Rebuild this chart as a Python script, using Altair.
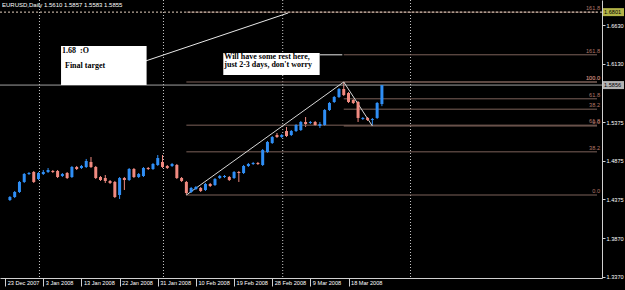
import altair as alt
import pandas as pd

# ---------------- data ----------------
opens = [1.4367, 1.4406, 1.4471, 1.4601, 1.4704, 1.4730, 1.4639, 1.4704, 1.4730, 1.4743,
         1.4743, 1.4678, 1.4717, 1.4665, 1.4795, 1.4782, 1.4795, 1.4860, 1.4795, 1.4665,
         1.4652, 1.4614, 1.4601, 1.4432, 1.4652, 1.4626, 1.4769, 1.4665, 1.4678, 1.4782,
         1.4769, 1.4821, 1.4860, 1.4808, 1.4808, 1.4821, 1.4652, 1.4601, 1.4471, 1.4510,
         1.4523, 1.4497, 1.4575, 1.4562, 1.4652, 1.4665, 1.4665, 1.4652, 1.4730, 1.4717,
         1.4808, 1.4834, 1.4847, 1.4821, 1.4989, 1.5106, 1.5209, 1.5183, 1.5261, 1.5209,
         1.5261, 1.5274, 1.5378, 1.5365, 1.5378, 1.5326, 1.5339, 1.5533, 1.5637, 1.5702,
         1.5805, 1.5753, 1.5663, 1.5637, 1.5417, 1.5430, 1.5404, 1.5430, 1.5610]
highs = [1.4419, 1.4484, 1.4614, 1.4717, 1.4730, 1.4743, 1.4730, 1.4756, 1.4782, 1.4756,
         1.4756, 1.4717, 1.4730, 1.4808, 1.4808, 1.4821, 1.4899, 1.4924, 1.4808, 1.4678,
         1.4691, 1.4626, 1.4614, 1.4665, 1.4665, 1.4782, 1.4782, 1.4717, 1.4795, 1.4795,
         1.4847, 1.4950, 1.4950, 1.4821, 1.4847, 1.4834, 1.4665, 1.4614, 1.4536, 1.4549,
         1.4536, 1.4588, 1.4588, 1.4652, 1.4691, 1.4691, 1.4678, 1.4743, 1.4743, 1.4821,
         1.4847, 1.4860, 1.4860, 1.5028, 1.5132, 1.5196, 1.5235, 1.5222, 1.5313, 1.5274,
         1.5352, 1.5391, 1.5442, 1.5391, 1.5391, 1.5378, 1.5546, 1.5637, 1.5715, 1.5818,
         1.5896, 1.5766, 1.5676, 1.5650, 1.5442, 1.5442, 1.5430, 1.5637, 1.5857]
lows = [1.4354, 1.4393, 1.4458, 1.4588, 1.4691, 1.4588, 1.4626, 1.4691, 1.4717, 1.4717,
        1.4652, 1.4665, 1.4639, 1.4652, 1.4756, 1.4769, 1.4782, 1.4782, 1.4639, 1.4614,
        1.4588, 1.4575, 1.4393, 1.4380, 1.4497, 1.4614, 1.4652, 1.4652, 1.4665, 1.4756,
        1.4756, 1.4808, 1.4782, 1.4769, 1.4795, 1.4639, 1.4601, 1.4432, 1.4458, 1.4497,
        1.4471, 1.4484, 1.4536, 1.4549, 1.4639, 1.4652, 1.4614, 1.4639, 1.4601, 1.4704,
        1.4795, 1.4821, 1.4821, 1.4808, 1.4976, 1.5093, 1.5171, 1.5171, 1.5183, 1.5196,
        1.5248, 1.5261, 1.5313, 1.5352, 1.5326, 1.5300, 1.5326, 1.5520, 1.5624, 1.5689,
        1.5715, 1.5624, 1.5611, 1.5378, 1.5404, 1.5391, 1.5326, 1.5417, 1.5583]
closes = [1.4406, 1.4471, 1.4601, 1.4704, 1.4717, 1.4601, 1.4717, 1.4730, 1.4756, 1.4730,
          1.4665, 1.4704, 1.4652, 1.4795, 1.4769, 1.4808, 1.4873, 1.4795, 1.4652, 1.4626,
          1.4614, 1.4588, 1.4406, 1.4652, 1.4626, 1.4769, 1.4665, 1.4704, 1.4782, 1.4769,
          1.4834, 1.4911, 1.4795, 1.4782, 1.4834, 1.4652, 1.4614, 1.4458, 1.4523, 1.4536,
          1.4484, 1.4575, 1.4549, 1.4639, 1.4678, 1.4678, 1.4626, 1.4730, 1.4717, 1.4808,
          1.4834, 1.4847, 1.4834, 1.5015, 1.5119, 1.5183, 1.5183, 1.5209, 1.5196, 1.5261,
          1.5339, 1.5378, 1.5352, 1.5378, 1.5339, 1.5352, 1.5533, 1.5624, 1.5702, 1.5805,
          1.5727, 1.5637, 1.5624, 1.5430, 1.5430, 1.5404, 1.5417, 1.5624, 1.5855]
bar_index = list(range(len(opens)))

tick_bars = [-1, 7, 15, 23, 31, 39, 47, 55, 63, 71]
tick_dates = ["23 Dec 2007", "3 Jan 2008", "13 Jan 2008", "22 Jan 2008", "31 Jan 2008",
              "10 Feb 2008", "19 Feb 2008", "28 Feb 2008", "9 Mar 2008", "18 Mar 2008"]
price_ticks = [1.6880, 1.6630, 1.6380, 1.6130, 1.5630, 1.5375, 1.5125, 1.4875,
               1.4625, 1.4375, 1.4125, 1.3870, 1.3620, 1.3370]
month_lines = [6.2, 32.2, 57.2, 84.0]

fib_levels = [0.0, 38.2, 61.8, 100.0, 161.8]
fibA_bars = [37, 70]
fibA_prices = [1.4432, 1.5896]
fibB_bars = [70, 76]
fibB_prices = [1.5896, 1.5326]
bid_price = 1.5856
target_price = 1.6801

box_x1 = [10.72, 44.74]
box_x2 = [28.66, 64.95]
box_y1 = [1.5857, 1.5987]
box_y2 = [1.6362, 1.6272]
note_text = ["1.68\u00a0\u00a0:O", "Final target", "Will have some rest here,", "just 2-3 days, don't worry"]
note_x = [10.93, 11.55, 44.95, 44.95]
note_y = [1.6297, 1.6103, 1.6220, 1.6116]
conn_x1 = [28.45, 64.95]
conn_y1 = [1.6168, 1.6248]
conn_x2 = [58.35, 69.7]
conn_y2 = [1.6790, 1.6248]

X_MAX = 123.1
BLUE = "#2f8ef5"
RED = "#f08a80"
FIB = "#7d625a"
FIBTXT = "#b5786a"
FONT = "Liberation Sans"

# ---------------- frames ----------------
df = pd.DataFrame(dict(i=bar_index, o=opens, h=highs, l=lows, c=closes))
df["dir"] = ["up" if c >= o else "down" for o, c in zip(opens, closes)]

fib_rows = []
for name, bars_, prices_ in (("A", fibA_bars, fibA_prices), ("B", fibB_bars, fibB_prices)):
    hi, lo = max(prices_), min(prices_)
    for lv in fib_levels:
        fib_rows.append(dict(fib=name, x1=min(bars_), x2=X_MAX, p=lo + (hi - lo) * lv / 100.0,
                             lab=f"{lv:.1f}"))
fib_df = pd.DataFrame(fib_rows)
diag_df = pd.DataFrame(dict(x1=[fibA_bars[0], fibB_bars[0]], y1=[fibA_prices[0], fibB_prices[0]],
                            x2=[fibA_bars[1], fibB_bars[1]], y2=[fibA_prices[1], fibB_prices[1]]))
box_df = pd.DataFrame(dict(x1=box_x1, x2=box_x2, y1=box_y1, y2=box_y2))
note_df = pd.DataFrame(dict(x=note_x, y=note_y, t=note_text))
conn_df = pd.DataFrame(dict(x1=conn_x1, y1=conn_y1, x2=conn_x2, y2=conn_y2))
bid_df = pd.DataFrame(dict(p=[bid_price], t=[f"{bid_price:.4f}"]))
tgt_df = pd.DataFrame(dict(p=[target_price], t=[f"{target_price:.4f}"]))
grid_df = pd.DataFrame(dict(x=month_lines))
title_df = pd.DataFrame(dict(t=[f"EURUSD,Daily  {opens[-1]:.4f} {highs[-1]:.4f} {lows[-1]:.4f} {closes[-1]:.4f}"]))

xs = alt.Scale(domain=[-1.03, X_MAX], nice=False, zero=False)
ys = alt.Scale(domain=[1.3357, 1.6958], nice=False, zero=False)

label_arr = "[" + ",".join(f"'{d}'" for d in tick_dates) + "]"
xaxis = alt.Axis(values=tick_bars, labelExpr=label_arr + "[round((datum.value + 1) / 8)]",
                 title=None, grid=False, labelAlign="left", labelBaseline="top",
                 labelColor="white", labelFont=FONT, labelFontSize=5.6, labelOffset=2,
                 labelPadding=-6, tickSize=8, tickColor="#d0d0d0", domainColor="#d0d0d0",
                 labelOverlap=False, labelFlush=False)
yaxis = alt.Axis(values=price_ticks, format=".4f", orient="right", title=None, grid=False,
                 labelColor="white", labelFont=FONT, labelFontSize=5.6, labelPadding=1,
                 tickSize=3, tickColor="#d0d0d0", domainColor="#d0d0d0", labelOverlap=False,
                 labelFlush=False)

BLUE_RED = alt.Scale(domain=["up", "down"], range=[BLUE, RED])

wick = alt.Chart(df).mark_rule(strokeWidth=1).encode(
    x=alt.X("i:Q", scale=xs, axis=xaxis),
    y=alt.Y("l:Q", scale=ys, axis=yaxis),
    y2="h:Q",
    color=alt.Color("dir:N", scale=BLUE_RED, legend=None))
body = alt.Chart(df).mark_bar(size=3).encode(
    x=alt.X("i:Q"), y=alt.Y("o:Q"), y2="c:Q",
    color=alt.Color("dir:N", scale=BLUE_RED, legend=None))

grid = alt.Chart(grid_df).mark_rule(color="#c8c8c8", strokeDash=[1, 2], strokeWidth=1).encode(
    x=alt.X("x:Q"))

fib_lines = alt.Chart(fib_df).mark_rule(color=FIB, strokeWidth=1).encode(
    x=alt.X("x1:Q"), x2="x2:Q", y=alt.Y("p:Q"))
fib_labels = alt.Chart(fib_df).mark_text(color=FIBTXT, font=FONT, fontSize=5.6, align="right",
                                         baseline="bottom", dy=-1).encode(
    x=alt.value(600), y=alt.Y("p:Q"), text="lab:N")

bid_line = alt.Chart(bid_df).mark_rule(color="#a0a0a0", strokeWidth=1).encode(y=alt.Y("p:Q"))
target_line = alt.Chart(tgt_df).mark_rule(
    color="#e6d2c0", strokeWidth=1, strokeDash=[2, 2]).encode(y=alt.Y("p:Q"))

diag = alt.Chart(diag_df).mark_rule(color="#d8d8d8", strokeWidth=1).encode(
    x=alt.X("x1:Q"), y=alt.Y("y1:Q"), x2="x2:Q", y2="y2:Q")
conn = alt.Chart(conn_df).mark_rule(color="#e8e8e8", strokeWidth=1).encode(
    x=alt.X("x1:Q"), y=alt.Y("y1:Q"), x2="x2:Q", y2="y2:Q")

boxes = alt.Chart(box_df).mark_rect(color="white").encode(
    x=alt.X("x1:Q"), x2="x2:Q", y=alt.Y("y1:Q"), y2="y2:Q")
notes = alt.Chart(note_df).mark_text(color="black", font="Liberation Serif", fontSize=8,
                                     fontWeight="bold", align="left", baseline="middle").encode(
    x=alt.X("x:Q"), y=alt.Y("y:Q"), text="t:N")

bid_box = alt.Chart(bid_df).mark_tick(size=21, thickness=8, orient="horizontal", color="white").encode(
    x=alt.value(613.5), y=alt.Y("p:Q"))
tgt_box = alt.Chart(tgt_df).mark_tick(size=21, thickness=8, orient="horizontal", color="#ffff66").encode(
    x=alt.value(613.5), y=alt.Y("p:Q"))
bid_text = alt.Chart(bid_df).mark_text(color="black", font=FONT, fontSize=5.6, align="left",
                                       baseline="middle").encode(
    x=alt.value(604), y=alt.Y("p:Q"), text="t:N")
tgt_text = alt.Chart(tgt_df).mark_text(color="black", font=FONT, fontSize=5.6, align="left",
                                       baseline="middle").encode(
    x=alt.value(604), y=alt.Y("p:Q"), text="t:N")

title = alt.Chart(title_df).mark_text(color="white", font=FONT, fontSize=6, align="left",
                                      baseline="middle").encode(
    x=alt.value(2), y=alt.value(5), text="t:N")

chart = alt.layer(
    wick, grid, fib_lines, bid_line, target_line, diag, conn, body, fib_labels,
    boxes, notes, bid_box, tgt_box, bid_text, tgt_text, title
).properties(
    width=602, height=278,
    autosize=alt.AutoSizeParams(type="none"),
    padding={"left": 0, "top": 0, "right": 23, "bottom": 12},
    background="black",
).configure_view(stroke=None)

chart.save("out.html", embed_options={"renderer": "svg", "actions": False})
